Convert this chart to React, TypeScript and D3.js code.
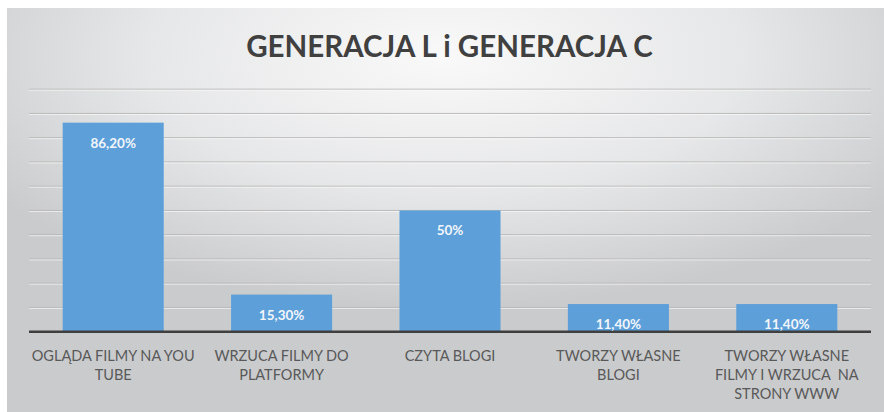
import React from "react";
import * as d3 from "d3";

const categories: string[][] = [
  ["OGLĄDA FILMY NA YOU", "TUBE"],
  ["WRZUCA FILMY DO", "PLATFORMY"],
  ["CZYTA BLOGI"],
  ["TWORZY WŁASNE", "BLOGI"],
  ["TWORZY WŁASNE", "FILMY I WRZUCA  NA", "STRONY WWW"],
];
const values: number[] = [86.2, 15.3, 50, 11.4, 11.4];
const valueLabels: string[] = ["86,20%", "15,30%", "50%", "11,40%", "11,40%"];
const gridTicks: number[] = [10, 20, 30, 40, 50, 60, 70, 80, 90, 100];
const title = "GENERACJA L i GENERACJA C";

const W = 884;
const H = 412;

export default function App() {
  const keys = categories.map((_, i) => String(i));
  const x = d3.scaleBand<string>().domain(keys).range([29, 871]).paddingInner(0.4).paddingOuter(0.2);
  const y = d3.scaleLinear().domain([0, 100]).range([331.7, 89.2]);
  const font = "Lato, 'Open Sans', sans-serif";

  return (
    <svg
      width={W}
      height={H}
      style={{ position: "absolute", left: 0, top: 0 }}
      xmlns="http://www.w3.org/2000/svg"
    >
      <defs>
        <radialGradient id="bg" cx="0.5" cy="0.12" r="0.62">
          <stop offset="0" stopColor="#f9f9f9" />
          <stop offset="0.55" stopColor="#e6e7e8" />
          <stop offset="1" stopColor="#cacbcd" />
        </radialGradient>
      </defs>
      <rect x={0} y={0} width={W} height={H} fill="#ffffff" />
      <rect x={7} y={8} width={W - 7} height={H - 8} fill="url(#bg)" />

      <text
        x={449.5}
        y={56.7}
        textAnchor="middle"
        fontFamily={font}
        fontWeight={700}
        fontSize={29.5}
        fill="#404040"
      >
        {title}
      </text>

      {gridTicks.map((t) => (
        <g key={t}>
          <line x1={29} x2={871} y1={y(t)} y2={y(t)} stroke="#b8b8b8" strokeWidth={1} />
          <line x1={29} x2={871} y1={y(t) + 1} y2={y(t) + 1} stroke="#ffffff" strokeOpacity={0.6} strokeWidth={1} />
        </g>
      ))}

      {values.map((v, i) => (
        <rect
          key={i}
          x={x(String(i))}
          y={y(v)}
          width={x.bandwidth()}
          height={y(0) - y(v)}
          fill="#5d9fd9"
        />
      ))}

      <line x1={29} x2={871} y1={y(0)} y2={y(0)} stroke="#3f3f3f" strokeWidth={2.5} />

      {values.map((v, i) => (
        <text
          key={i}
          x={(x(String(i)) as number) + x.bandwidth() / 2}
          y={y(v) + 25}
          textAnchor="middle"
          fontFamily={font}
          fontWeight={700}
          fontSize={13.5}
          fill="#f2f6fb"
        >
          {valueLabels[i]}
        </text>
      ))}

      {categories.map((lines, i) => (
        <text
          key={i}
          x={(x(String(i)) as number) + x.bandwidth() / 2}
          textAnchor="middle"
          fontFamily={font}
          fontSize={14.5}
          fill="#595959"
          style={{ whiteSpace: "pre" }}
        >
          {lines.map((l, j) => (
            <tspan key={j} x={(x(String(i)) as number) + x.bandwidth() / 2} y={361 + j * 19}>
              {l}
            </tspan>
          ))}
        </text>
      ))}
    </svg>
  );
}
